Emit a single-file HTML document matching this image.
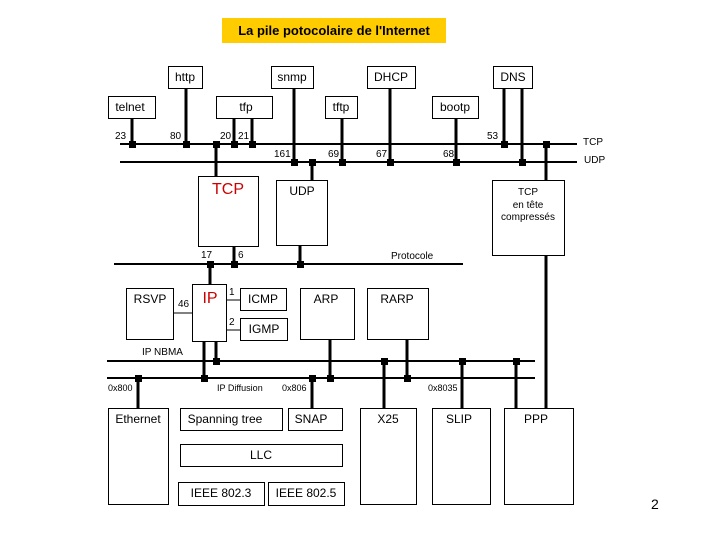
<!DOCTYPE html>
<html><head><meta charset="utf-8"><style>
html,body{margin:0;padding:0;background:#fff}
svg{display:block}
text{font-family:"Liberation Sans",Arial,sans-serif;fill:#000}
</style></head><body>
<svg width="720" height="540" viewBox="0 0 720 540" xmlns="http://www.w3.org/2000/svg">
<rect x="222" y="18" width="224" height="25" fill="#FFCC00"/>
<text x="334" y="35" font-size="13" font-weight="bold" text-anchor="middle">La pile potocolaire de l'Internet</text>

<g fill="#fff" stroke="#000" stroke-width="1">
<rect x="168.5" y="66.5" width="34" height="22"/>
<rect x="271.5" y="66.5" width="42" height="22"/>
<rect x="367.5" y="66.5" width="48" height="22"/>
<rect x="493.5" y="66.5" width="39" height="22"/>
<rect x="108.5" y="96.5" width="47" height="22"/>
<rect x="216.5" y="96.5" width="56" height="22"/>
<rect x="325.5" y="96.5" width="32" height="22"/>
<rect x="432.5" y="96.5" width="46" height="22"/>
<rect x="198.5" y="176.5" width="60" height="70"/>
<rect x="276.5" y="180.5" width="51" height="65"/>
<rect x="492.5" y="180.5" width="72" height="75"/>
<rect x="192.5" y="284.5" width="34" height="57"/>
<rect x="126.5" y="288.5" width="47" height="51"/>
<rect x="240.5" y="288.5" width="46" height="22"/>
<rect x="240.5" y="318.5" width="47" height="22"/>
<rect x="300.5" y="288.5" width="54" height="51"/>
<rect x="367.5" y="288.5" width="61" height="51"/>
<rect x="108.5" y="408.5" width="60" height="96"/>
<rect x="180.5" y="408.5" width="102" height="22"/>
<rect x="288.5" y="408.5" width="54" height="22"/>
<rect x="180.5" y="444.5" width="162" height="22"/>
<rect x="178.5" y="482.5" width="86" height="23"/>
<rect x="268.5" y="482.5" width="76" height="23"/>
<rect x="360.5" y="408.5" width="56" height="96"/>
<rect x="432.5" y="408.5" width="58" height="96"/>
<rect x="504.5" y="408.5" width="69" height="96"/>
</g>

<g stroke="#000" stroke-width="2">
<line x1="120" y1="144" x2="577" y2="144"/>
<line x1="120" y1="162" x2="577" y2="162"/>
<line x1="114" y1="264" x2="463" y2="264"/>
<line x1="107" y1="361" x2="535" y2="361"/>
<line x1="107" y1="378" x2="535" y2="378"/>
</g>
<g stroke="#000" stroke-width="1">
<line x1="173" y1="313" x2="192" y2="313"/>
<line x1="227" y1="300" x2="240" y2="300"/>
<line x1="227" y1="330" x2="240" y2="330"/>
</g>
<g stroke="#000" stroke-width="3">
<line x1="132" y1="118" x2="132" y2="144"/>
<line x1="186" y1="88" x2="186" y2="144"/>
<line x1="216" y1="144" x2="216" y2="176"/>
<line x1="234" y1="118" x2="234" y2="144"/>
<line x1="252" y1="118" x2="252" y2="144"/>
<line x1="294" y1="88" x2="294" y2="162"/>
<line x1="312" y1="162" x2="312" y2="180"/>
<line x1="342" y1="118" x2="342" y2="162"/>
<line x1="390" y1="88" x2="390" y2="162"/>
<line x1="456" y1="118" x2="456" y2="162"/>
<line x1="504" y1="88" x2="504" y2="144"/>
<line x1="522" y1="88" x2="522" y2="162"/>
<line x1="546" y1="144" x2="546" y2="180"/>
<line x1="234" y1="246" x2="234" y2="264"/>
<line x1="300" y1="245" x2="300" y2="264"/>
<line x1="210" y1="264" x2="210" y2="284"/>
<line x1="546" y1="256" x2="546" y2="408"/>
<line x1="204" y1="342" x2="204" y2="378"/>
<line x1="216" y1="342" x2="216" y2="361"/>
<line x1="330" y1="340" x2="330" y2="378"/>
<line x1="407" y1="340" x2="407" y2="378"/>
<line x1="384" y1="361" x2="384" y2="408"/>
<line x1="462" y1="361" x2="462" y2="408"/>
<line x1="516" y1="361" x2="516" y2="408"/>
<line x1="138" y1="378" x2="138" y2="408"/>
<line x1="312" y1="378" x2="312" y2="408"/>
</g>
<g fill="#000">
<rect x="129" y="141" width="7" height="7"/>
<rect x="183" y="141" width="7" height="7"/>
<rect x="213" y="141" width="7" height="7"/>
<rect x="231" y="141" width="7" height="7"/>
<rect x="249" y="141" width="7" height="7"/>
<rect x="501" y="141" width="7" height="7"/>
<rect x="543" y="141" width="7" height="7"/>
<rect x="291" y="159" width="7" height="7"/>
<rect x="309" y="159" width="7" height="7"/>
<rect x="339" y="159" width="7" height="7"/>
<rect x="387" y="159" width="7" height="7"/>
<rect x="453" y="159" width="7" height="7"/>
<rect x="519" y="159" width="7" height="7"/>
<rect x="207" y="261" width="7" height="7"/>
<rect x="231" y="261" width="7" height="7"/>
<rect x="297" y="261" width="7" height="7"/>
<rect x="213" y="358" width="7" height="7"/>
<rect x="381" y="358" width="7" height="7"/>
<rect x="459" y="358" width="7" height="7"/>
<rect x="513" y="358" width="7" height="7"/>
<rect x="135" y="375" width="7" height="7"/>
<rect x="201" y="375" width="7" height="7"/>
<rect x="309" y="375" width="7" height="7"/>
<rect x="327" y="375" width="7" height="7"/>
<rect x="404" y="375" width="7" height="7"/>
</g>

<g font-size="12" text-anchor="middle">
<text x="185" y="81">http</text>
<text x="292" y="81">snmp</text>
<text x="391" y="81">DHCP</text>
<text x="513" y="81">DNS</text>
<text x="130" y="111">telnet</text>
<text x="246" y="111">tfp</text>
<text x="341" y="111">tftp</text>
<text x="455" y="111">bootp</text>
<text x="302" y="195">UDP</text>
<text x="150" y="303">RSVP</text>
<text x="263" y="303">ICMP</text>
<text x="264" y="333">IGMP</text>
<text x="326" y="303">ARP</text>
<text x="397" y="303">RARP</text>
<text x="138" y="423">Ethernet</text>
<text x="225" y="423">Spanning tree</text>
<text x="311" y="423">SNAP</text>
<text x="261" y="459">LLC</text>
<text x="221" y="497">IEEE 802.3</text>
<text x="306" y="497">IEEE 802.5</text>
<text x="388" y="423">X25</text>
<text x="459" y="423">SLIP</text>
<text x="536" y="423">PPP</text>
</g>
<text x="228" y="194" font-size="16" text-anchor="middle" style="fill:#CC0000">TCP</text>
<text x="210" y="303" font-size="16" text-anchor="middle" style="fill:#CC0000">IP</text>
<g font-size="10">
<text x="115" y="139">23</text>
<text x="170" y="139">80</text>
<text x="220" y="139">20</text>
<text x="238" y="139">21</text>
<text x="487" y="139">53</text>
<text x="274" y="157">161</text>
<text x="328" y="157">69</text>
<text x="376" y="157">67</text>
<text x="443" y="157">68</text>
<text x="583" y="145">TCP</text>
<text x="584" y="163">UDP</text>
<text x="528" y="195" text-anchor="middle">TCP</text>
<text x="528" y="208" text-anchor="middle">en tête</text>
<text x="528" y="220" text-anchor="middle">compressés</text>
<text x="201" y="258">17</text>
<text x="238" y="258">6</text>
<text x="391" y="259">Protocole</text>
<text x="178" y="307">46</text>
<text x="229" y="295">1</text>
<text x="229" y="325">2</text>
<text x="142" y="355">IP NBMA</text>
<text x="108" y="391" font-size="9">0x800</text>
<text x="217" y="391" font-size="9">IP Diffusion</text>
<text x="282" y="391" font-size="9">0x806</text>
<text x="428" y="391" font-size="9">0x8035</text>
</g>
<text x="651" y="509" font-size="14">2</text>
</svg>
</body></html>
